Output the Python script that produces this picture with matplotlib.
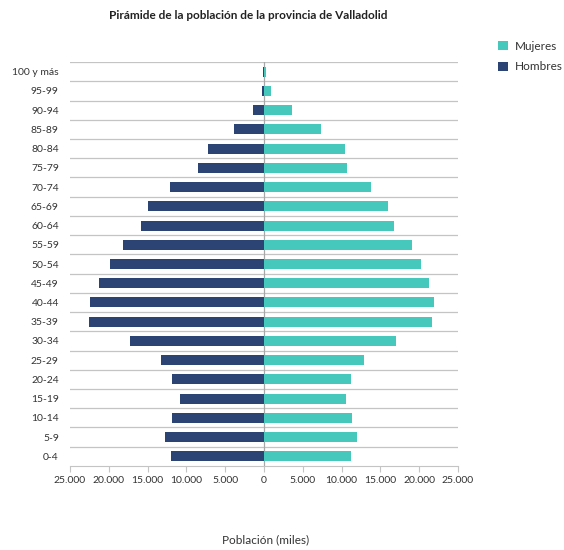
import numpy as np
import matplotlib.pyplot as plt
from matplotlib.ticker import FuncFormatter

plt.rcParams['font.family'] = ['Lato', 'DejaVu Sans']

grupos = ["0-4", "5-9", "10-14", "15-19", "20-24", "25-29", "30-34", "35-39",
          "40-44", "45-49", "50-54", "55-59", "60-64", "65-69", "70-74",
          "75-79", "80-84", "85-89", "90-94", "95-99", "100 y más"]
hombres = [12000, 12750, 11800, 10800, 11800, 13300, 17200, 22550, 22450,
           21300, 19800, 18100, 15800, 15000, 12100, 8550, 7180, 3870, 1450, 300, 60]
mujeres = [11200, 11950, 11300, 10600, 11200, 12900, 17000, 21600, 21900,
           21300, 20300, 19100, 16700, 16000, 13750, 10650, 10400, 7400, 3650, 860, 300]

c_hom = "#2b4473"
c_muj = "#46c8bc"
gris = "#c4c4c4"

fig = plt.figure(figsize=(5.64, 5.5), dpi=100)
ax = fig.add_axes([0.124, 0.153, 0.688, 0.734])

y = np.arange(len(grupos))
ax.barh(y, [-v for v in hombres], height=0.52, color=c_hom, label="Hombres", zorder=3)
ax.barh(y, mujeres, height=0.52, color=c_muj, label="Mujeres", zorder=3)

ax.set_xlim(-25000, 25000)
ax.set_ylim(-0.5, len(grupos) - 0.5)
ax.set_yticks(y)
ax.set_yticklabels(grupos)
for b in np.arange(-0.5, len(grupos), 1.0)[1:]:
    ax.axhline(b, color=gris, lw=0.9, zorder=1)
ax.axvline(0, color="#a8a8a8", lw=0.9, zorder=2)

ax.set_xticks(np.arange(-25000, 25001, 5000))
ax.xaxis.set_major_formatter(FuncFormatter(lambda v, p: f"{abs(int(v)):,}".replace(",", ".")))
ax.tick_params(axis="x", length=4, color=gris, labelsize=7.5, labelcolor="#333333", pad=3)
ax.tick_params(axis="y", length=0, labelsize=7.5, labelcolor="#333333", pad=8)
for s in ["top", "right", "left"]:
    ax.spines[s].set_visible(False)
ax.spines["bottom"].set_color(gris)

fig.text(0.44, 0.972, "Pirámide de la población de la provincia de Valladolid",
         ha="center", va="center", fontsize=8.5, fontweight="bold", color="#222222")
fig.text(0.47, 0.018, "Población (miles)", ha="center", va="center",
         fontsize=8.5, color="#333333")

h, l = ax.get_legend_handles_labels()
fig.legend(h[::-1], l[::-1], loc="upper left", bbox_to_anchor=(0.865, 0.945),
           frameon=False, fontsize=8.5, handlelength=0.8, handleheight=0.8,
           labelspacing=0.8, handletextpad=0.6, labelcolor="#333333")

fig.savefig("out.png", dpi=100)
